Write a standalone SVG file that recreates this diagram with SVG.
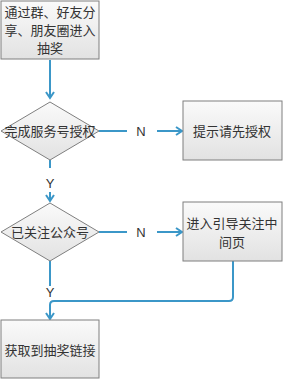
<svg xmlns="http://www.w3.org/2000/svg" width="283" height="380" viewBox="0 0 283 380">
<style>
.n{fill:url(#g);stroke:#7f7f7f;stroke-width:1}
.t{font-family:"Noto Sans CJK SC","Liberation Sans",sans-serif;font-size:13px;fill:#333;text-anchor:middle}
.l{font-family:"Liberation Sans",sans-serif;font-size:13px;fill:#333;text-anchor:middle}
.c{fill:none;stroke:#3b97c8;stroke-width:2}
</style>
<defs>
<linearGradient id="g" x1="0" y1="0" x2="0" y2="1">
<stop offset="0" stop-color="#fafafa"/>
<stop offset="1" stop-color="#e2e2e2"/>
</linearGradient>
<marker id="a" markerWidth="10" markerHeight="10" refX="8" refY="5" orient="auto" markerUnits="userSpaceOnUse">
<path d="M2,1 L8,5 L2,9" fill="none" stroke="#3b97c8" stroke-width="2"/>
</marker>
</defs>
<g id="connectors">
<path class="c" d="M50,60 V98" marker-end="url(#a)"/>
<path class="c" d="M99,131 H127"/>
<path class="c" d="M157,131 H182" marker-end="url(#a)"/>
<path class="c" d="M50,160 V168"/>
<path class="c" d="M50,192 V201" marker-end="url(#a)"/>
<path class="c" d="M99,232 H127"/>
<path class="c" d="M157,232 H182" marker-end="url(#a)"/>
<path class="c" d="M50,261 V286"/>
<path class="c" d="M233,261 V297 Q233,301 229,301 H54 Q50,301 50,305 V319" marker-end="url(#a)"/>
<text class="l" x="141" y="136">N</text>
<text class="l" x="50" y="188">Y</text>
<text class="l" x="141" y="237">N</text>
<text class="l" x="50" y="297">Y</text>
</g>
<g id="n1">
<rect class="n" x="1" y="1" width="98" height="58"/>
<text class="t" x="50" y="17">通过群、好友分</text>
<text class="t" x="50" y="35">享、朋友圈进入</text>
<text class="t" x="50" y="53">抽奖</text>
</g>
<g id="n2">
<polygon class="n" points="50,102 99,131 50,160 1,131"/>
<text class="t" x="50" y="136">完成服务号授权</text>
</g>
<g id="n3">
<rect class="n" x="183" y="101" width="99" height="59"/>
<text class="t" x="232" y="136">提示请先授权</text>
</g>
<g id="n4">
<polygon class="n" points="50,203 99,232 50,261 1,232"/>
<text class="t" x="50" y="237">已关注公众号</text>
</g>
<g id="n5">
<rect class="n" x="183" y="202" width="99" height="59"/>
<text class="t" x="232" y="228">进入引导关注中</text>
<text class="t" x="232" y="247">间页</text>
</g>
<g id="n6">
<rect class="n" x="1" y="320" width="98" height="58"/>
<text class="t" x="50" y="355">获取到抽奖链接</text>
</g>
</svg>
